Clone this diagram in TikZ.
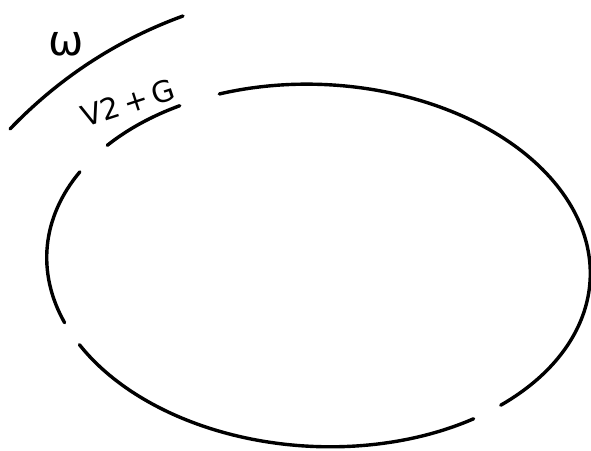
\documentclass[tikz,border=0pt]{standalone}
\usepackage{fontspec}
\usepackage{tikz}
\usetikzlibrary{positioning}

\newfontfamily\handfont{DejaVu Sans}

\begin{document}
\begin{tikzpicture}[
    x=0.03cm, y=-0.03cm,
    curve/.style={line width=2.9pt, line cap=round, black},
    handtext/.style={font=\handfont\fontsize{25}{25}\selectfont, inner sep=0pt}
]
\useasboundingbox (0,0) rectangle (591,450);

% broken ellipse
\begin{scope}[shift={(318.5,265.5)}, rotate=-3]
\draw[curve] (-113.4:272 and 181) arc[start angle=-113.4, end angle=45.9, x radius=272, y radius=181];
\draw[curve] (53.2:272 and 181) arc[start angle=53.2, end angle=149.6, x radius=272, y radius=181];
\draw[curve] (157.1:272 and 181) arc[start angle=157.1, end angle=206.6, x radius=272, y radius=181];
\draw[curve] (217.0:272 and 181) arc[start angle=217.0, end angle=237.3, x radius=272, y radius=181];
\end{scope}

% outer arc
\draw[curve] (10,129) .. controls (59,78) and (117,40) .. (183,16);

\node[handtext, font=\handfont\fontsize{36}{36}\selectfont] (omega) at (66,44) {ω};
\node[handtext, rotate=18] (vtwo) at (128,103) {V2\,+\,G};

\end{tikzpicture}
\end{document}
